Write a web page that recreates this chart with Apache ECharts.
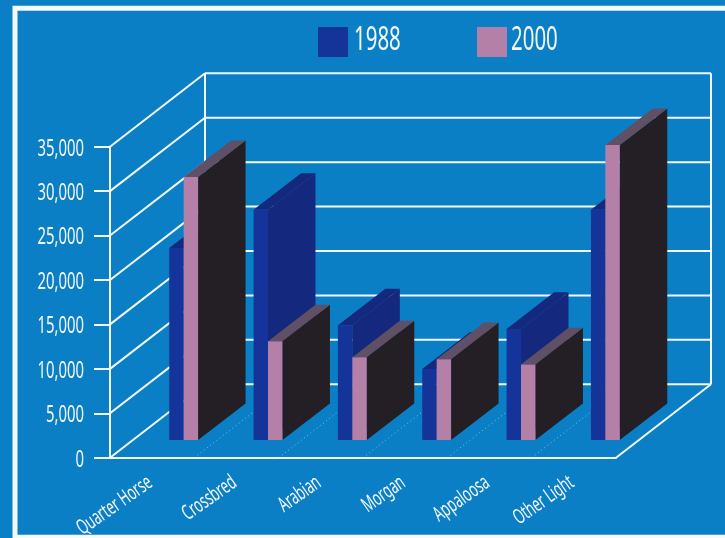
<!DOCTYPE html>
<html>
<head>
<meta charset="utf-8">
<style>
  html, body { margin: 0; padding: 0; background: #0b7fc5; }
  #chart { width: 725px; height: 538px; }
</style>
<script src="https://cdn.jsdelivr.net/npm/echarts@6/dist/echarts.min.js"></script>
</head>
<body>
<div id="chart"></div>
<script>
var categories = ['Quarter Horse', 'Crossbred', 'Arabian', 'Morgan', 'Appaloosa', 'Other Light'];
var values1988 = [21600, 25900, 12900, 8000, 12500, 25900];
var values2000 = [29600, 11100, 9300, 9100, 8500, 33200];
var yTicks = [0, 5000, 10000, 15000, 20000, 25000, 30000, 35000];
var yTickLabels = ['0', '5,000', '10,000', '15,000', '20,000', '25,000', '30,000', '35,000'];

// oblique projection, in pixels
var WALL_DX = 95, WALL_DY = -73.4;
var BAR_DX = 47.5, BAR_DY = -36.6;
var FLOOR_DY = -17.7, GROUP_DX = 31.5;

var FONT = '"Noto Sans", sans-serif';
var TEXT_COLOR = '#f4f8fb';
var NARROW = 0.62; // the original face is condensed, none is installed

var chart = echarts.init(document.getElementById('chart'));

function line(x1, y1, x2, y2, style) {
    return { type: 'line', shape: { x1: x1, y1: y1, x2: x2, y2: y2 }, style: style };
}

function renderWall(params, api) {
    var v = api.value(0);
    var band = api.size([1, 0])[0];
    var p0 = api.coord([0, v]);
    var p1 = api.coord([categories.length - 1, v]);
    var left = p0[0] - band / 2, right = p1[0] + band / 2, y = p0[1];
    var top = api.coord([0, yTicks[yTicks.length - 1]])[1];
    var bottom = api.coord([0, 0])[1];
    var st = { stroke: '#f4f8fb', lineWidth: 2 };
    var kids = [
        line(left, y, left + WALL_DX, y + WALL_DY, st),
        line(left + WALL_DX, y + WALL_DY, right + WALL_DX, y + WALL_DY, st)
    ];
    if (v === 0) {
        kids.push(line(right, y, right + WALL_DX, y + WALL_DY, st));
        kids.push(line(left + WALL_DX, top + WALL_DY, left + WALL_DX, bottom + WALL_DY, st));
        kids.push(line(right + WALL_DX, top + WALL_DY, right + WALL_DX, bottom + WALL_DY, st));
    }
    return { type: 'group', children: kids };
}

function renderFloor(params, api) {
    var band = api.size([1, 0])[0];
    var p = api.coord([api.value(0), 0]);
    var x = p[0] + band / 2;
    return line(x, p[1], x + WALL_DX, p[1] + WALL_DY, {
        stroke: '#d8f0f4', lineWidth: 1, lineDash: [1, 3], opacity: 0.55
    });
}

function barRenderer(slot, colors) {
    return function (params, api) {
        var i = api.value(0);
        var band = api.size([1, 0])[0];
        var w = band * 0.171;
        var top = api.coord([i, api.value(1)]);
        var base = api.coord([i, 0]);
        var x0 = base[0] + GROUP_DX + (slot - 1) * w, x1 = x0 + w;
        var yb = base[1] + FLOOR_DY, yt = top[1] + FLOOR_DY;
        return {
            type: 'group',
            children: [
                { type: 'polygon', shape: { points: [[x1, yt], [x1 + BAR_DX, yt + BAR_DY], [x1 + BAR_DX, yb + BAR_DY], [x1, yb]] }, style: { fill: colors.side } },
                { type: 'polygon', shape: { points: [[x0, yt], [x1, yt], [x1 + BAR_DX, yt + BAR_DY], [x0 + BAR_DX, yt + BAR_DY]] }, style: { fill: colors.top } },
                { type: 'rect', shape: { x: x0, y: yt, width: w, height: yb - yt }, style: { fill: colors.front } }
            ]
        };
    };
}

// axis labels are drawn here because the axis can't squeeze its text
function renderYLabel(params, api) {
    var p = api.coord([0, api.value(0)]);
    var band = api.size([1, 0])[0];
    return {
        type: 'text',
        x: p[0] - band / 2 - 26,
        y: p[1] + 2,
        scaleX: NARROW,
        style: {
            text: yTickLabels[params.dataIndex],
            fill: TEXT_COLOR, font: '24px ' + FONT,
            align: 'right', verticalAlign: 'middle'
        }
    };
}

function renderXLabel(params, api) {
    var p = api.coord([api.value(0), 0]);
    return {
        type: 'text',
        x: p[0] - 2,
        y: p[1] + 23,
        scaleX: 0.61,
        rotation: 35 * Math.PI / 180,
        style: {
            text: categories[params.dataIndex],
            fill: TEXT_COLOR, font: '21px ' + FONT,
            align: 'right', verticalAlign: 'middle'
        }
    };
}

function legendText(x, text) {
    return {
        type: 'text', x: x, y: 41, scaleX: NARROW,
        style: { text: text, fill: TEXT_COLOR, font: '33px ' + FONT, align: 'left', verticalAlign: 'middle' }
    };
}

var option = {
    animation: false,
    backgroundColor: '#0b7fc5',
    graphic: {
        elements: [
            { type: 'rect', silent: true, shape: { x: 15, y: 8.3, width: 800, height: 529 },
              style: { fill: 'none', stroke: '#f6f9fb', lineWidth: 5 } },
            { type: 'rect', silent: true, shape: { x: 318, y: 27, width: 30, height: 30 }, style: { fill: '#14349a' } },
            { type: 'rect', silent: true, shape: { x: 477, y: 27, width: 30, height: 30 }, style: { fill: '#b480a8' } },
            legendText(354, '1988'),
            legendText(511, '2000')
        ]
    },
    grid: { left: 110, right: 109, top: 146.7, bottom: 80.3, outerBoundsMode: 'none' },
    xAxis: {
        type: 'category',
        data: categories,
        axisLine: { lineStyle: { color: '#f4f8fb', width: 2 } },
        axisTick: { alignWithLabel: true, length: 17, lineStyle: { color: '#a5dfe2', width: 1.6 } },
        axisLabel: { show: false }
    },
    yAxis: {
        type: 'value',
        min: 0,
        max: 35000,
        interval: 5000,
        splitLine: { show: false },
        axisLine: { show: true, lineStyle: { color: '#f4f8fb', width: 2 } },
        axisTick: { show: true, length: 16, lineStyle: { color: '#f4f8fb', width: 2 } },
        axisLabel: { show: false }
    },
    series: [
        {
            name: 'wall', type: 'custom', silent: true, z: 1,
            coordinateSystem: 'cartesian2d',
            encode: { y: 0 },
            data: yTicks.map(function (v) { return [v]; }),
            renderItem: renderWall
        },
        {
            name: 'floor', type: 'custom', silent: true, z: 1,
            coordinateSystem: 'cartesian2d',
            encode: { x: 0 },
            data: categories.slice(0, 5).map(function (c, i) { return [i]; }),
            renderItem: renderFloor
        },
        {
            name: 'yLabels', type: 'custom', silent: true, z: 4,
            coordinateSystem: 'cartesian2d',
            encode: { y: 0 },
            data: yTicks.map(function (v) { return [v]; }),
            renderItem: renderYLabel
        },
        {
            name: 'xLabels', type: 'custom', silent: true, z: 4,
            coordinateSystem: 'cartesian2d',
            encode: { x: 0 },
            data: categories.map(function (c, i) { return [i]; }),
            renderItem: renderXLabel
        },
        {
            name: '1988', type: 'custom', z: 2,
            coordinateSystem: 'cartesian2d',
            encode: { x: 0, y: 1 },
            itemStyle: { color: '#14349a' },
            data: values1988.map(function (v, i) { return [i, v]; }),
            renderItem: barRenderer(0, { front: '#14349a', side: '#14287e', top: '#14287e' })
        },
        {
            name: '2000', type: 'custom', z: 3,
            coordinateSystem: 'cartesian2d',
            encode: { x: 0, y: 1 },
            itemStyle: { color: '#b480a8' },
            data: values2000.map(function (v, i) { return [i, v]; }),
            renderItem: barRenderer(1, { front: '#b480a8', side: '#231f25', top: '#5f5065' })
        }
    ]
};
chart.setOption(option);
</script>
</body>
</html>
